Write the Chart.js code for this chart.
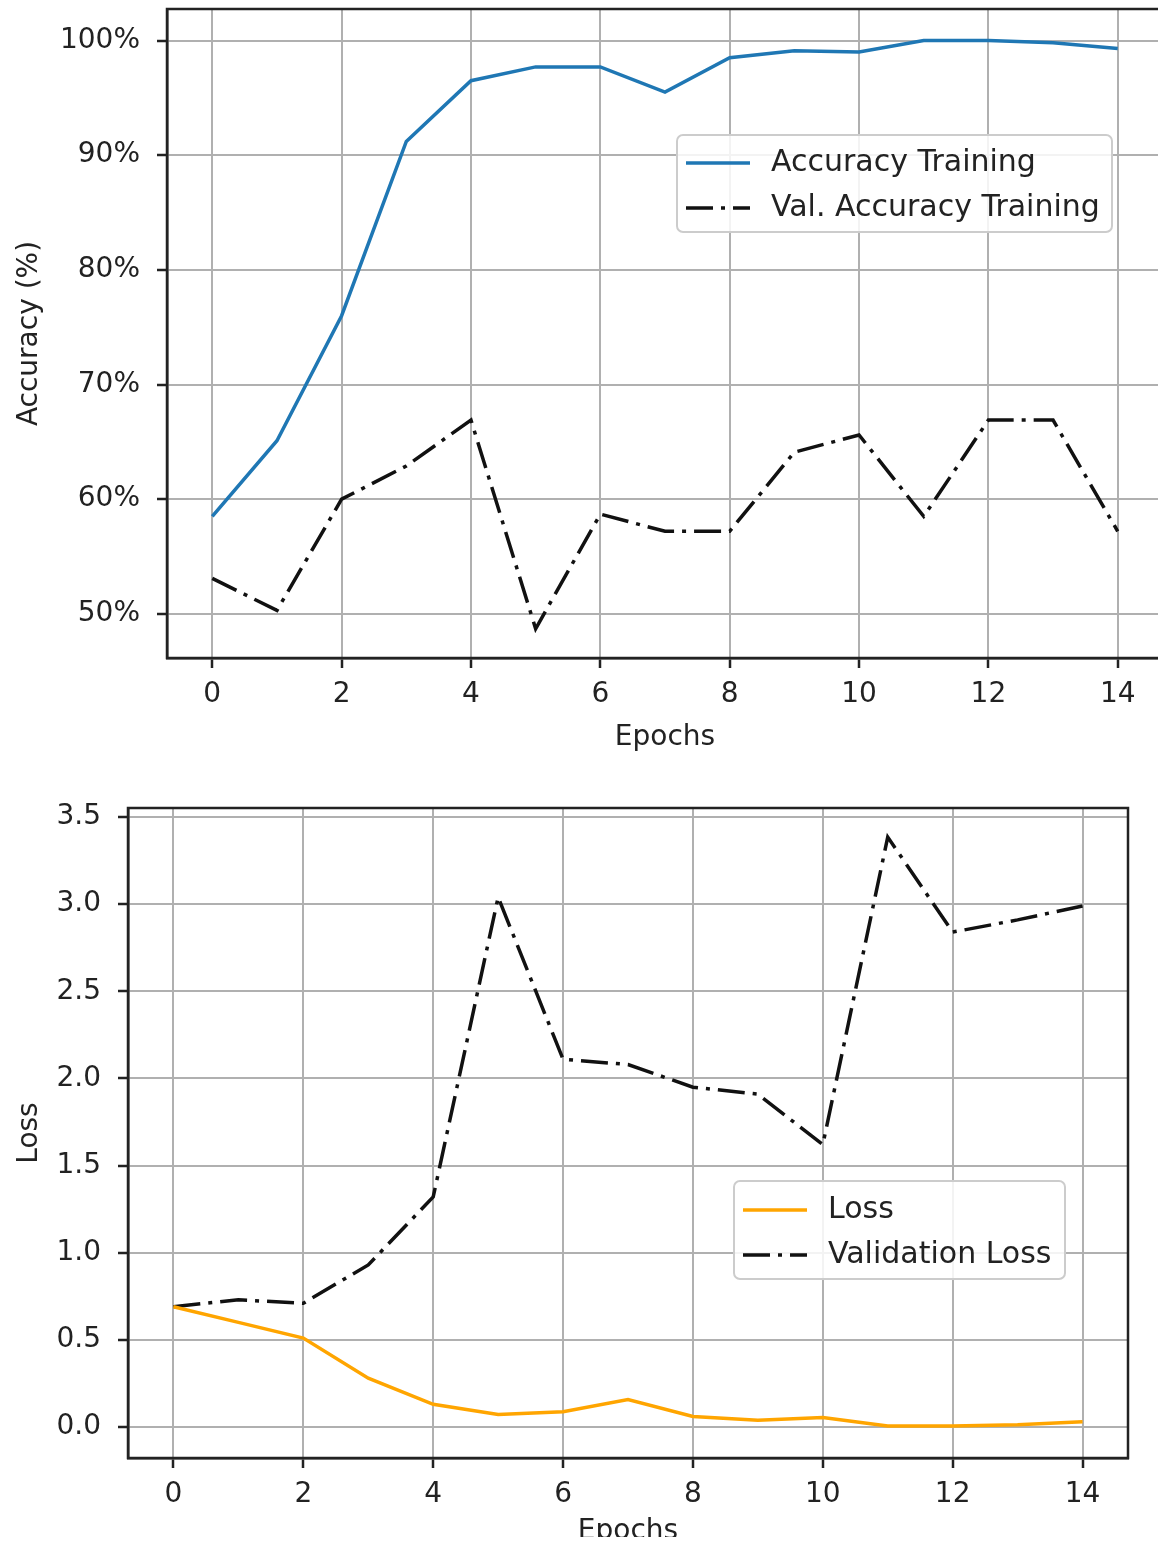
<!DOCTYPE html>
<html>
<head>
<meta charset="utf-8">
<script src="https://cdn.jsdelivr.net/npm/chart.js"></script>
<style>
  html, body { margin: 0; padding: 0; background: #fff; overflow: hidden; width: 1158px; height: 1543px; }
  .box { position: absolute; left: 0; overflow: hidden; }
</style>
</head>
<body>
<div class="box" style="top:0;width:1158px;height:770px"><canvas id="accChart" width="1170" height="770"></canvas></div>
<div class="box" style="top:770px;width:1158px;height:767px"><canvas id="lossChart" width="1158" height="800"></canvas></div>
<script>
  const epochs = [0, 1, 2, 3, 4, 5, 6, 7, 8, 9, 10, 11, 12, 13, 14];
  const xTicks = [0, 2, 4, 6, 8, 10, 12, 14];

  const accTraining = [58.5, 65.1, 76.0, 91.2, 96.5, 97.7, 97.7, 95.5, 98.5, 99.1, 99.0, 100.0, 100.0, 99.8, 99.3];
  const valAccuracy = [53.1, 50.3, 60.0, 62.9, 66.9, 48.7, 58.7, 57.2, 57.2, 64.1, 65.6, 58.5, 66.9, 66.9, 57.2];
  const accTicks = [50, 60, 70, 80, 90, 100];

  const lossTraining = [0.69, 0.60, 0.51, 0.28, 0.13, 0.072, 0.088, 0.158, 0.06, 0.038, 0.055, 0.006, 0.006, 0.013, 0.03];
  const valLoss = [0.69, 0.73, 0.71, 0.93, 1.32, 3.04, 2.11, 2.08, 1.95, 1.91, 1.62, 3.385, 2.84, 2.91, 2.99];
  const lossTicks = [0.0, 0.5, 1.0, 1.5, 2.0, 2.5, 3.0, 3.5];

  const F = "'DejaVu Sans', sans-serif";
  const INK = "#222";
  const dashDot = [27, 8, 4, 8];

  const pts = arr => epochs.map((e, i) => ({ x: e, y: arr[i] }));

  // top/right spines, like matplotlib's box
  const frame = {
    id: "frame",
    afterDatasetsDraw(chart) {
      const { ctx, chartArea: a } = chart;
      ctx.save();
      ctx.strokeStyle = INK;
      ctx.lineWidth = 2.5;
      ctx.strokeRect(a.left, a.top, a.right - a.left, a.bottom - a.top);
      ctx.restore();
    }
  };

  // legend box drawn inside the axes
  const legendBox = {
    id: "legendBox",
    afterDraw(chart, args, o) {
      const ctx = chart.ctx;
      ctx.save();
      ctx.beginPath();
      ctx.roundRect(o.x, o.y, o.w, o.h, 6);
      ctx.fillStyle = "rgba(255,255,255,0.85)";
      ctx.fill();
      ctx.strokeStyle = "#cccccc";
      ctx.lineWidth = 2;
      ctx.stroke();
      chart.data.datasets.forEach((ds, i) => {
        const y = o.y + o.first + i * o.row;
        ctx.beginPath();
        ctx.setLineDash(ds.borderDash || []);
        ctx.strokeStyle = ds.borderColor;
        ctx.lineWidth = ds.borderWidth;
        ctx.moveTo(o.x + 9, y);
        ctx.lineTo(o.x + 73, y);
        ctx.stroke();
        ctx.setLineDash([]);
        ctx.fillStyle = INK;
        ctx.font = "30px " + F;
        ctx.textBaseline = "middle";
        ctx.textAlign = "left";
        ctx.fillText(ds.label, o.x + 94, y);
      });
      ctx.restore();
    }
  };

  function axes(o) {
    const grid = { color: "#b0b0b0", lineWidth: 2, tickColor: INK, tickLength: 10, tickWidth: 2.5 };
    const border = { color: INK, width: 2.5 };
    return {
      x: {
        type: "linear", min: -0.7, max: 14.7,
        afterBuildTicks: s => { s.ticks = xTicks.map(v => ({ value: v })); },
        afterFit: s => { s.height = o.xh; s.paddingLeft = 0; s.paddingRight = 0; },
        grid, border,
        ticks: { color: INK, font: { family: F, size: 28 }, padding: 10, maxRotation: 0, autoSkip: false },
        title: { display: true, text: "Epochs", color: INK, font: { family: F, size: 28 }, padding: { top: 0, bottom: o.xtp } }
      },
      y: {
        type: "linear", min: o.ymin, max: o.ymax,
        afterBuildTicks: s => { s.ticks = o.yticks.map(v => ({ value: v })); },
        afterFit: s => { s.width = o.yw; s.paddingTop = 0; s.paddingBottom = 0; },
        grid, border,
        ticks: { color: INK, font: { family: F, size: 28 }, padding: 17, callback: o.fmt },
        title: { display: true, text: o.ytitle, color: INK, font: { family: F, size: 28 }, padding: { top: 13, bottom: 0 } }
      }
    };
  }

  new Chart(document.getElementById("accChart"), {
    type: "line",
    data: {
      datasets: [
        { label: "Accuracy Training", data: pts(accTraining), borderColor: "#1f77b4", borderWidth: 3.5, pointRadius: 0, tension: 0 },
        { label: "Val. Accuracy Training", data: pts(valAccuracy), borderColor: "#111", borderWidth: 3.5, borderDash: dashDot, pointRadius: 0, tension: 0 }
      ]
    },
    options: {
      responsive: false, animation: false,
      layout: { padding: { top: 9, right: 7, left: 0, bottom: 0 } },
      plugins: {
        legend: { display: false }, tooltip: { enabled: false },
        legendBox: { x: 677, y: 135, w: 435, h: 97, first: 28, row: 45 }
      },
      scales: axes({ xh: 112, xtp: 15, ymin: 46.15, ymax: 102.75, yticks: accTicks, yw: 167, ytitle: "Accuracy (%)", fmt: v => v + "%" })
    },
    plugins: [frame, legendBox]
  });

  new Chart(document.getElementById("lossChart"), {
    type: "line",
    data: {
      datasets: [
        { label: "Loss", data: pts(lossTraining), borderColor: "#ffa500", borderWidth: 3.5, pointRadius: 0, tension: 0 },
        { label: "Validation Loss", data: pts(valLoss), borderColor: "#111", borderWidth: 3.5, borderDash: dashDot, pointRadius: 0, tension: 0 }
      ]
    },
    options: {
      responsive: false, animation: false,
      layout: { padding: { top: 38, right: 30, left: 0, bottom: 0 } },
      plugins: {
        legend: { display: false }, tooltip: { enabled: false },
        legendBox: { x: 734, y: 411, w: 331, h: 98, first: 29, row: 45 }
      },
      scales: axes({ xh: 112, xtp: 21, ymin: -0.178, ymax: 3.552, yticks: lossTicks, yw: 128, ytitle: "Loss", fmt: v => v.toFixed(1) })
    },
    plugins: [frame, legendBox]
  });
</script>
</body>
</html>
